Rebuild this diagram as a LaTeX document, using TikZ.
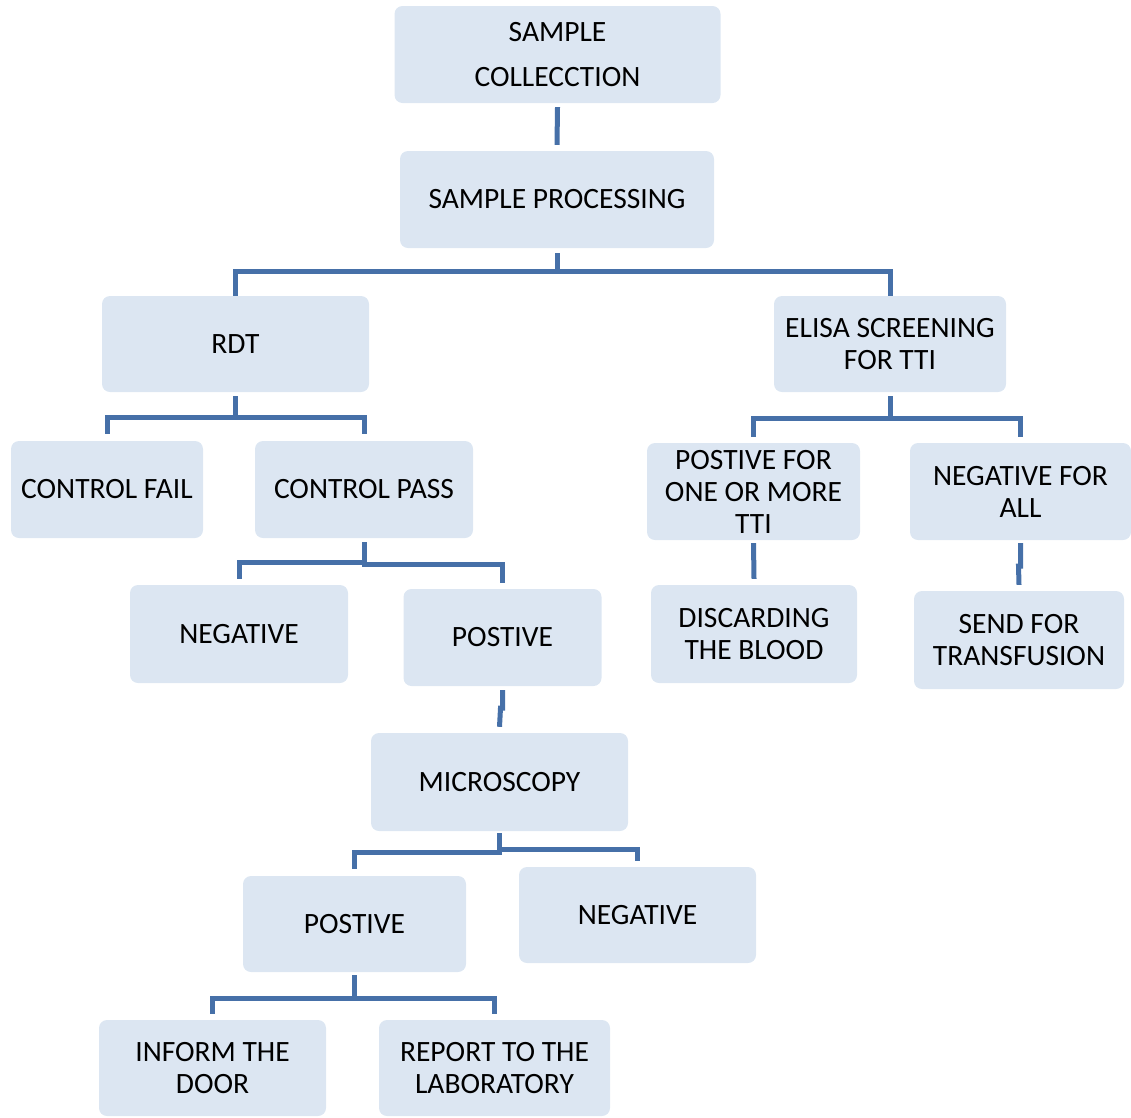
\documentclass[tikz,border=0pt]{standalone}
\usepackage{fontspec}
\setmainfont{Carlito}
\definecolor{boxfill}{HTML}{DCE6F2}
\definecolor{linecol}{HTML}{4670A8}
\begin{document}
\begin{tikzpicture}[x=1pt,y=-1pt,
  box/.style={draw=none,fill=boxfill,rounded corners=8pt,inner sep=0pt,align=center,
    font=\fontsize{29.5}{32}\selectfont},
  conn/.style={draw=linecol,line width=5pt}]
\useasboundingbox (0,0) rectangle (1131,1117);
% nodes
\node[box,minimum width=326pt,minimum height=97pt,font=\fontsize{29.5}{45}\selectfont] (sc) at (557.5,54.5) {SAMPLE\\COLLECCTION};
\node[box,minimum width=314pt,minimum height=97pt] (sp) at (557,199.5) {SAMPLE PROCESSING};
\node[box,minimum width=267pt,minimum height=96pt] (rdt) at (235.5,344) {RDT};
\node[box,minimum width=232pt,minimum height=96pt] (elisa) at (890,344) {ELISA SCREENING\\FOR TTI};
\node[box,minimum width=192pt,minimum height=97pt] (cfail) at (107,489.5) {CONTROL FAIL};
\node[box,minimum width=218pt,minimum height=97pt] (cpass) at (364,489.5) {CONTROL PASS};
\node[box,minimum width=213pt,minimum height=97pt] (ptti) at (753.5,491.5) {POSTIVE FOR\\ONE OR MORE\\TTI};
\node[box,minimum width=221pt,minimum height=97pt] (nall) at (1020.5,491.5) {NEGATIVE FOR\\ALL};
\node[box,minimum width=218pt,minimum height=98pt] (neg1) at (239,634) {NEGATIVE};
\node[box,minimum width=198pt,minimum height=97pt] (pos1) at (502.5,637.5) {POSTIVE};
\node[box,minimum width=206pt,minimum height=98pt] (disc) at (754,634) {DISCARDING\\THE BLOOD};
\node[box,minimum width=210pt,minimum height=98pt] (send) at (1019,640) {SEND FOR\\TRANSFUSION};
\node[box,minimum width=257pt,minimum height=98pt] (micro) at (499.5,782) {MICROSCOPY};
\node[box,minimum width=223pt,minimum height=96pt] (pos2) at (354.5,924) {POSTIVE};
\node[box,minimum width=237pt,minimum height=96pt] (neg2) at (637.5,915) {NEGATIVE};
\node[box,minimum width=227pt,minimum height=96pt] (inform) at (212.5,1068) {INFORM THE\\DOOR};
\node[box,minimum width=231pt,minimum height=96pt] (report) at (494.5,1068) {REPORT TO THE\\LABORATORY};
% bus levels
\coordinate (b1) at (0,271);
\coordinate (b2) at (0,417);
\coordinate (b3) at (0,418);
\coordinate (b4l) at (0,562);
\coordinate (b4r) at (0,564.5);
\coordinate (b5) at (0,708);
\coordinate (b6l) at (0,852.5);
\coordinate (b6r) at (0,849);
\coordinate (b7) at (0,998);
\coordinate (b8) at (0,566);
% connectors
\draw[conn] ([yshift=-4pt]sc.south) -- ([yshift=6pt]sp.north);
\draw[conn] ([yshift=-5pt]sp.south) |- (rdt.north |- b1) -- ([yshift=0pt]rdt.north);
\draw[conn] ([yshift=-5pt]sp.south) |- (elisa.north |- b1) -- ([yshift=0pt]elisa.north);
\draw[conn] ([yshift=-4pt]rdt.south) |- (cfail.north |- b2) -- ([yshift=7pt]cfail.north);
\draw[conn] ([yshift=-4pt]rdt.south) |- (cpass.north |- b2) -- ([yshift=7pt]cpass.north);
\draw[conn] ([yshift=-4pt]elisa.south) |- (ptti.north |- b3) -- ([yshift=6pt]ptti.north);
\draw[conn] ([yshift=-4pt]elisa.south) |- (nall.north |- b3) -- ([yshift=6pt]nall.north);
\draw[conn] ([yshift=-4pt]cpass.south) |- (neg1.north |- b4l) -- ([yshift=6pt]neg1.north);
\draw[conn] ([yshift=-4pt]cpass.south) |- (pos1.north |- b4r) -- ([yshift=6pt]pos1.north);
\draw[conn] ([yshift=-4pt]pos1.south) |- ([xshift=-2pt]pos1.south |- b5) -- ([yshift=6pt]micro.north);
\draw[conn] ([yshift=-2pt]micro.south) |- (pos2.north |- b6l) -- ([yshift=7pt]pos2.north);
\draw[conn] ([yshift=-2pt]micro.south) |- (neg2.north |- b6r) -- ([yshift=6pt]neg2.north);
\draw[conn] ([yshift=-3pt]ptti.south) -- ([yshift=6pt]disc.north);
\draw[conn] ([yshift=-3pt]nall.south) |- ([xshift=-2pt]nall.south |- b8) -- ([yshift=6pt]send.north);
\draw[conn] ([yshift=-3pt]pos2.south) |- (inform.north |- b7) -- ([yshift=6pt]inform.north);
\draw[conn] ([yshift=-3pt]pos2.south) |- (report.north |- b7) -- ([yshift=6pt]report.north);
\end{tikzpicture}
\end{document}
